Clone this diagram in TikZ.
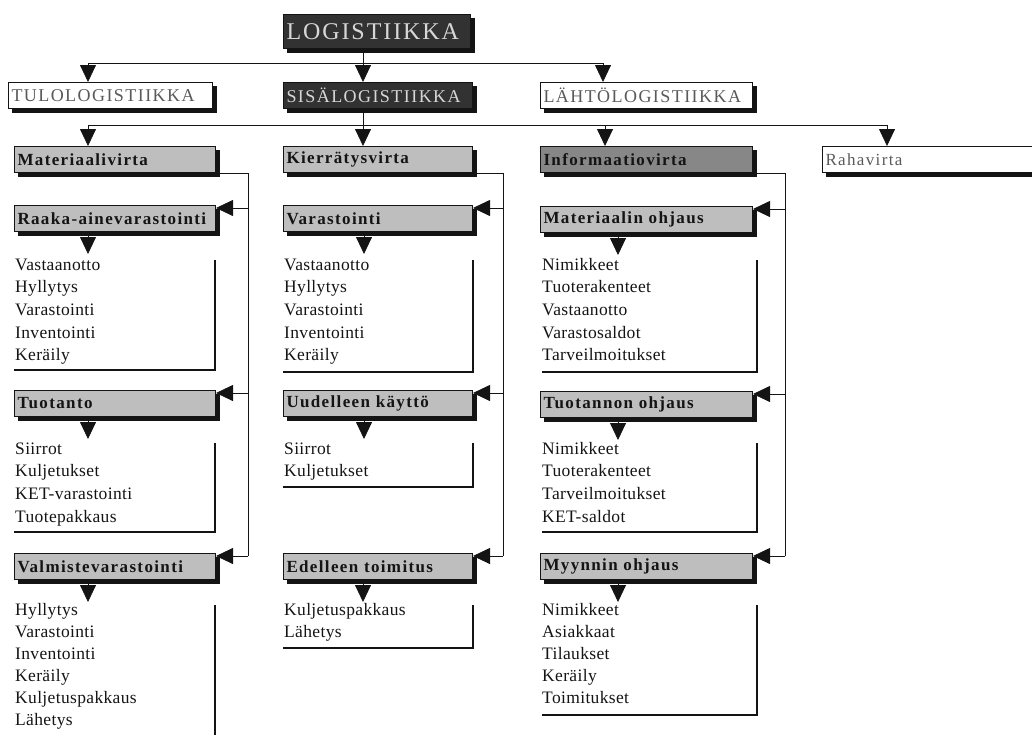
\documentclass[tikz,border=0pt]{standalone}
\usepackage{fontspec}
\setmainfont{Liberation Serif}
\newfontfamily\spacedfont[LetterSpace=8]{Liberation Serif}
\newfontfamily\listfont[LetterSpace=2]{Liberation Serif}
\usepackage{tikz}
\usetikzlibrary{arrows.meta, positioning, calc, shadows}
\definecolor{myink}{RGB}{20,20,20}
\definecolor{mydark}{RGB}{50,50,50}
\definecolor{mypale}{RGB}{215,215,215}
\definecolor{mystip}{RGB}{190,190,190}
\definecolor{mystipdark}{RGB}{135,135,135}
\definecolor{mygreytext}{RGB}{90,90,90}
\tikzset{
  box/.style={rectangle, anchor=north west, draw=myink, line width=1pt, inner xsep=3pt, inner ysep=0pt, minimum height=26pt, text width=#1, align=left, general shadow={shadow xshift=4pt, shadow yshift=-4pt, fill=myink, draw=myink}},
  darkbox/.style={box=#1, fill=mydark, text=mypale, font=\spacedfont\fontsize{18}{18}\selectfont},
  whitebox/.style={box=#1, fill=white, text=mygreytext, font=\spacedfont\fontsize{18}{18}\selectfont},
  flowbox/.style={box=#1, fill=mystip, text=myink, font=\spacedfont\fontsize{17}{17}\selectfont\bfseries},
  item/.style={anchor=base west, inner sep=0pt, font=\listfont\fontsize{17.5}{17.5}\selectfont, text=myink},
  arrow/.style={-{Triangle[length=17pt,width=16pt]}, line width=0.8pt, color=myink},
  line/.style={line width=0.8pt, color=myink},
  bracket/.style={line width=2.6pt, color=myink}
}

\begin{document}
\begin{tikzpicture}[x=1pt, y=-1pt]
  \path[use as bounding box, clip] (0,0) rectangle (1032,734);

  % Top level
  \node[darkbox=181pt, minimum height=34pt, font=\spacedfont\fontsize{24}{24}\selectfont] (log) at (283,14) {LOGISTIIKKA};
  \coordinate (bus1) at (363,63);
  \coordinate (bus2) at (363,125);

  % Second level
  \node[whitebox=198pt] (tulo) at (8,82) {TULOLOGISTIIKKA};
  \node[darkbox=183pt] (sisa) at (283,82) {SISÄLOGISTIIKKA};
  \node[whitebox=206pt] (lahto) at (540,82) {LÄHTÖLOGISTIIKKA};

  \draw[line] (log.south -| bus1) -- (bus1);
  \draw[line] ([xshift=80pt]tulo.north west |- bus1) -- ([xshift=63pt]lahto.north west |- bus1);
  \draw[arrow] ([xshift=80pt]tulo.north west |- bus1) -- ([xshift=80pt]tulo.north west);
  \draw[arrow] (sisa.north -| bus1) ++(0,-19) -- (sisa.north -| bus1);
  \draw[arrow] ([xshift=63pt]lahto.north west |- bus1) -- ([xshift=63pt]lahto.north west);

  % Third level: flows
  \node[flowbox=195pt] (mat) at (14,146) {Materiaalivirta};
  \node[flowbox=183pt] (kier) at (283,146) {Kierrätysvirta};
  \node[flowbox=206pt, fill=mystipdark] (info) at (540,146) {Informaatiovirta};
  \node[box=214pt, fill=white, text=mygreytext, font=\spacedfont\fontsize{17}{17}\selectfont] (raha) at (822,146) {Rahavirta};

  \draw[line] (sisa.south -| bus2) -- (bus2);
  \draw[line] ([xshift=74pt]mat.north west |- bus2) -- ([xshift=65pt]raha.north west |- bus2);
  \draw[arrow] ([xshift=74pt]mat.north west |- bus2) -- ([xshift=74pt]mat.north west);
  \draw[arrow] (kier.north -| bus2) ++(0,-21) -- (kier.north -| bus2);
  \draw[arrow] ([xshift=65pt]info.north west |- bus2) -- ([xshift=65pt]info.north west);
  \draw[arrow] ([xshift=65pt]raha.north west |- bus2) -- ([xshift=65pt]raha.north west);

  % Materiaalivirta
  \coordinate (mrail) at (248,0);
  \node[flowbox=195pt] (raaka) at (14,205) {Raaka-ainevarastointi};
  \node[flowbox=195pt] (tuot) at (14,390) {Tuotanto};
  \node[flowbox=195pt] (valm) at (14,553) {Valmistevarastointi};
  \draw[line] (mat.south east) -| ([yshift=-3pt]valm.north east -| mrail);
  \foreach \b in {raaka, tuot, valm}
    \draw[arrow] ([yshift=-3pt]\b.north east -| mrail) -- ([yshift=-3pt]\b.north east);
  \foreach \t [count=\i] in {Vastaanotto, Hyllytys, Varastointi, Inventointi, Keräily}
    \node[item] (ra\i) at (15,{270+22.7*(\i-1)}) {\t};
  \foreach \t [count=\i] in {Siirrot, Kuljetukset, KET-varastointi, Tuotepakkaus}
    \node[item] (tu\i) at (15,{454+22.7*(\i-1)}) {\t};
  \foreach \t [count=\i] in {Hyllytys, Varastointi, Inventointi, Keräily, Kuljetuspakkaus, Lähetys}
    \node[item] (va\i) at (15,{615+22*(\i-1)}) {\t};
  \draw[arrow] ([xshift=74pt]raaka.south west) -- ++(0,22);
  \draw[arrow] ([xshift=74pt]tuot.south west) -- ++(0,22);
  \draw[arrow] ([xshift=74pt]valm.south west) -- ++(0,22);
  \draw[bracket] (215,260) |- (14,370);
  \draw[bracket] (215,443) |- (14,532);
  \draw[bracket] (215,605) -- (215,740);

  % Kierratysvirta
  \coordinate (krail) at (503,0);
  \node[flowbox=183pt] (varas) at (283,205) {Varastointi};
  \node[flowbox=183pt] (uud) at (283,390) {Uudelleen käyttö};
  \node[flowbox=183pt] (edel) at (283,553) {Edelleen toimitus};
  \draw[line] (kier.south east) -| ([yshift=-3pt]edel.north east -| krail);
  \foreach \b in {varas, uud, edel}
    \draw[arrow] ([yshift=-3pt]\b.north east -| krail) -- ([yshift=-3pt]\b.north east);
  \foreach \t [count=\i] in {Vastaanotto, Hyllytys, Varastointi, Inventointi, Keräily}
    \node[item] (vr\i) at (284,{270+22.7*(\i-1)}) {\t};
  \foreach \t [count=\i] in {Siirrot, Kuljetukset}
    \node[item] (uu\i) at (284,{454+22.7*(\i-1)}) {\t};
  \foreach \t [count=\i] in {Kuljetuspakkaus, Lähetys}
    \node[item] (ed\i) at (284,{615+22.7*(\i-1)}) {\t};
  \draw[arrow] ([xshift=81pt]varas.south west) -- ++(0,22);
  \draw[arrow] ([xshift=81pt]uud.south west) -- ++(0,22);
  \draw[arrow] ([xshift=80pt]edel.south west) -- ++(0,22);
  \draw[bracket] (473,260) |- (283,372);
  \draw[bracket] (473,443) |- (283,487);
  \draw[bracket] (473,605) |- (283,648);

  % Informaatiovirta
  \coordinate (irail) at (785,0);
  \node[flowbox=206pt] (matohj) at (540,206) {Materiaalin ohjaus};
  \node[flowbox=206pt] (tuoohj) at (540,391) {Tuotannon ohjaus};
  \node[flowbox=206pt] (myy) at (540,553) {Myynnin ohjaus};
  \draw[line] (info.south east) -| ([yshift=-3pt]myy.north east -| irail);
  \foreach \b in {matohj, tuoohj, myy}
    \draw[arrow] ([yshift=-3pt]\b.north east -| irail) -- ([yshift=-3pt]\b.north east);
  \foreach \t [count=\i] in {Nimikkeet, Tuoterakenteet, Vastaanotto, Varastosaldot, Tarveilmoitukset}
    \node[item] (mo\i) at (542,{270+22.7*(\i-1)}) {\t};
  \foreach \t [count=\i] in {Nimikkeet, Tuoterakenteet, Tarveilmoitukset, KET-saldot}
    \node[item] (to\i) at (542,{454+22.7*(\i-1)}) {\t};
  \foreach \t [count=\i] in {Nimikkeet, Asiakkaat, Tilaukset, Keräily, Toimitukset}
    \node[item] (my\i) at (542,{615+22.2*(\i-1)}) {\t};
  \draw[arrow] ([xshift=78pt]matohj.south west) -- ++(0,22);
  \draw[arrow] ([xshift=78pt]tuoohj.south west) -- ++(0,22);
  \draw[arrow] ([xshift=78pt]myy.south west) -- ++(0,22);
  \draw[bracket] (757,260) |- (542,372);
  \draw[bracket] (757,443) |- (542,532);
  \draw[bracket] (757,605) |- (542,715);
\end{tikzpicture}
\end{document}
